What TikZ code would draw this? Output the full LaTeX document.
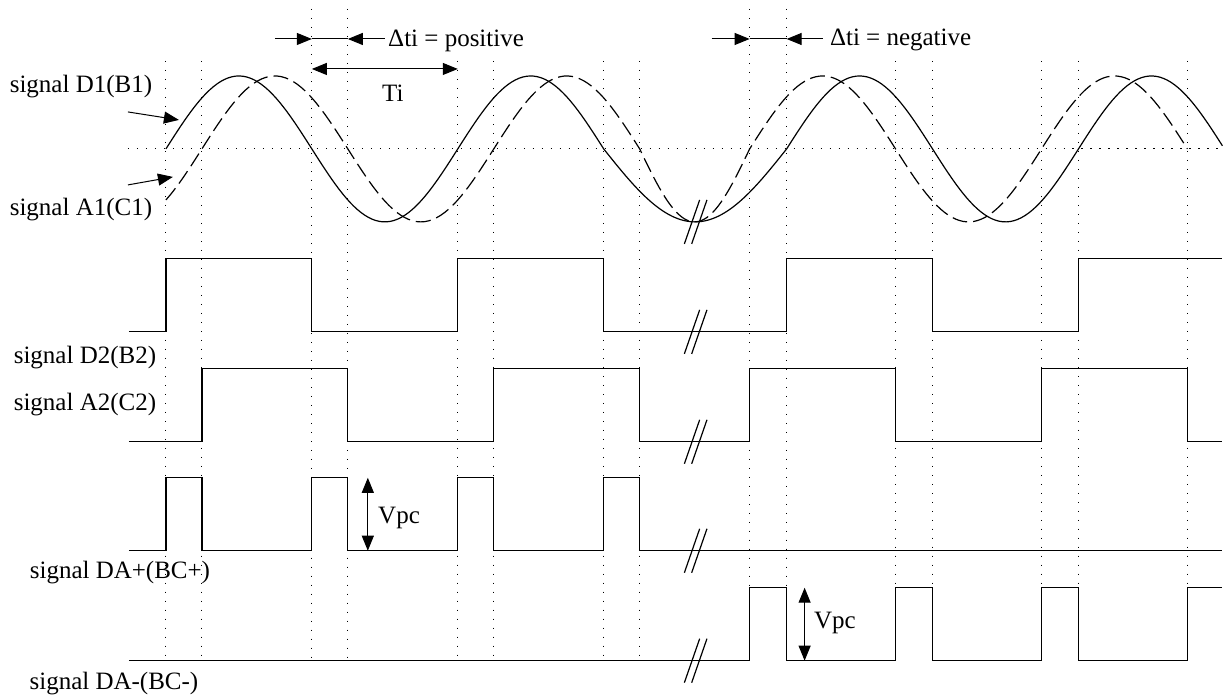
\documentclass[tikz,border=0pt]{standalone}
\usepackage{fontspec}
\setmainfont{Liberation Serif}
\usetikzlibrary{arrows.meta}
\newcommand{\cutmark}[1]{\draw[wave] (684.7,{#1+22}) -- (700,{#1-22}) (692,{#1+22}) -- (707.3,{#1-22});}

\begin{document}
\begin{tikzpicture}[x=0.5pt,y=-0.5pt,every node/.style={font=\fontsize{12.5}{14}\selectfont,inner sep=0pt},
    guide/.style={line width=0.5pt,dash pattern=on 0.75pt off 3.75pt},
    wave/.style={line width=0.6pt},
    lag/.style={wave,dash pattern=on 7.5pt off 3pt},
    pointer/.style={-{Triangle[length=7.5pt,width=6pt]},line width=0.5pt},
    span/.style={{Triangle[length=7.5pt,width=6pt]}-{Triangle[length=7.5pt,width=6pt]},line width=0.5pt}]
    \fill[white] (0,0) rectangle (1223,700);
    \draw[guide] (166,61) -- (166,661) (202,61) -- (202,661) (312,9) -- (312,661) (348,9) -- (348,661)
      (458,61) -- (458,661) (494,61) -- (494,661) (604,61) -- (604,661) (640,61) -- (640,661)
      (750,9) -- (750,661) (787,9) -- (787,661) (896,61) -- (896,661) (933,61) -- (933,661)
      (1042,61) -- (1042,661) (1079,61) -- (1079,661) (1188,61) -- (1188,661);
    \draw[guide] (128,149) -- (1223,149);
    \draw[wave] plot[domain=166:604,samples=120] (\x,{149-73*sin((\x-166)/146*180)})
      -- plot[domain=604:787,samples=60] (\x,{149+73*sin((\x-604)/183*180)})
      -- plot[domain=787:1223,samples=120] (\x,{149-73*sin((\x-787)/146*180)});
    \draw[lag] plot[domain=166:640,samples=120] (\x,{149-73*sin((\x-202)/146*180)})
      -- plot[domain=640:750,samples=40] (\x,{149+73*sin((\x-640)/110*180)})
      -- plot[domain=750:1188,samples=120] (\x,{149-73*sin((\x-750)/146*180)});
    \draw[wave] (129,332) -- (166,332) -- (166,259) -- (312,259) -- (312,332) -- (458,332) -- (458,259) -- (604,259) -- (604,332)
      -- (787,332) -- (787,259) -- (933,259) -- (933,332) -- (1079,332) -- (1079,259) -- (1223,259);
    \draw[wave] (129,442) -- (202,442) -- (202,369) -- (348,369) -- (348,442) -- (494,442) -- (494,369) -- (640,369) -- (640,442)
      -- (750,442) -- (750,369) -- (896,369) -- (896,442) -- (1042,442) -- (1042,369) -- (1188,369) -- (1188,442) -- (1223,442);
    \draw[wave] (129,551) -- (166,551) -- (166,478) -- (202,478) -- (202,551) -- (312,551) -- (312,478) -- (348,478) -- (348,551)
      -- (458,551) -- (458,478) -- (494,478) -- (494,551) -- (604,551) -- (604,478) -- (640,478) -- (640,551) -- (1223,551);
    \draw[wave] (129,661) -- (750,661) -- (750,588) -- (787,588) -- (787,661) -- (896,661) -- (896,588) -- (933,588) -- (933,661)
      -- (1042,661) -- (1042,588) -- (1079,588) -- (1079,661) -- (1188,661) -- (1188,588) -- (1223,588);
    \cutmark{222}
    \cutmark{332}
    \cutmark{442}
    \cutmark{551}
    \cutmark{661}
    \node (lblD1) at (81,87) {signal D1(B1)};
    \node (lblA1) at (81,210) {signal A1(C1)};
    \node (lblD2) at (85,358) {signal D2(B2)};
    \node (lblA2) at (85,405) {signal A2(C2)};
    \node (lblDAp) at (120,573) {signal DA+(BC+)};
    \node (lblDAm) at (114,684) {signal DA-(BC-)};
    \coordinate (d1from) at (128,112);
    \coordinate (d1to) at (179,120);
    \coordinate (a1from) at (128,185);
    \coordinate (a1to) at (173,177);
    \draw[pointer] (d1from) -- (d1to);
    \draw[pointer] (a1from) -- (a1to);
    \coordinate (posL) at (275,39);
    \coordinate (posA) at (312,39);
    \coordinate (posB) at (348,39);
    \coordinate (posR) at (385,39);
    \draw[pointer] (posL) -- (posA);
    \draw[line width=0.5pt] (posA) -- (posB);
    \draw[pointer] (posR) -- (posB);
    \node[anchor=west] (dtipos) at (388,41) {Δti = positive};
    \coordinate (tiA) at (312,69);
    \coordinate (tiB) at (458,69);
    \draw[span] (tiA) -- (tiB);
    \node (ti) at (393,93) {Ti};
    \coordinate (negL) at (712,39);
    \coordinate (negA) at (750,39);
    \coordinate (negB) at (787,39);
    \coordinate (negR) at (823,39);
    \draw[pointer] (negL) -- (negA);
    \draw[line width=0.5pt] (negA) -- (negB);
    \draw[pointer] (negR) -- (negB);
    \node[anchor=west] (dtineg) at (830,40) {Δti = negative};
    \coordinate (vpcTop) at (368,478);
    \coordinate (vpcBot) at (368,551);
    \draw[span] (vpcTop) -- (vpcBot);
    \node[anchor=west] (vpcA) at (378,518) {Vpc};
    \coordinate (vpcTop2) at (805,588);
    \coordinate (vpcBot2) at (805,661);
    \draw[span] (vpcTop2) -- (vpcBot2);
    \node[anchor=west] (vpcB) at (814,623) {Vpc};
  \end{tikzpicture}
\end{document}
